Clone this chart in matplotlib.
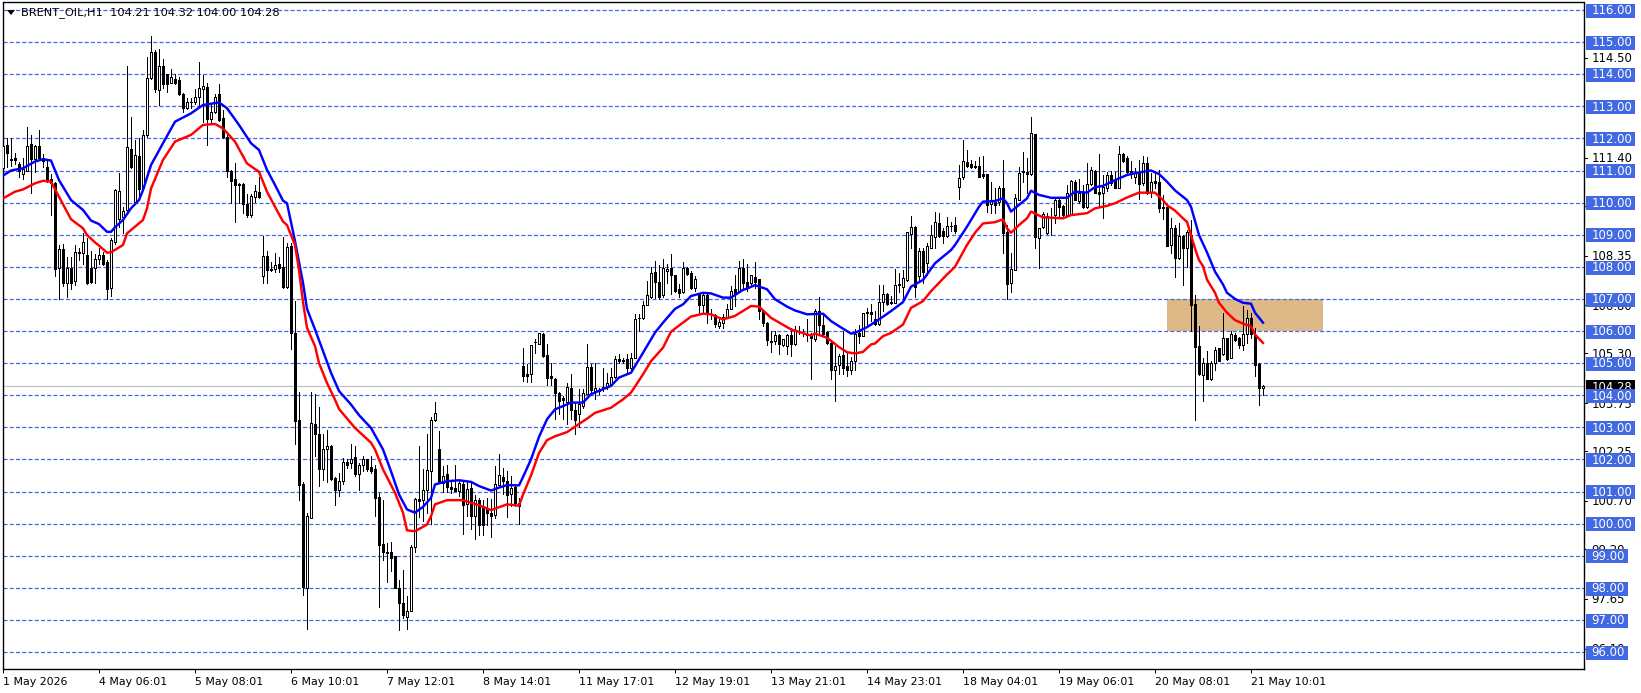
"""BRENT_OIL H1 terminal chart."""
import matplotlib
matplotlib.use("Agg")
import matplotlib.pyplot as plt
import matplotlib.transforms as mtransforms
from matplotlib.patches import Rectangle, Polygon
import numpy as np

W, H = 1641, 693

opens = [
    111.09, 111.80, 111.35, 111.38, 111.20, 110.90, 111.00, 111.82, 111.35, 111.75,
    111.38, 111.10, 110.72, 110.60, 107.95, 108.57, 107.50, 107.97, 107.55, 108.45,
    108.42, 108.37, 107.95, 107.95, 108.24, 108.37, 108.15, 107.33, 108.78, 109.50,
    109.56, 109.77, 111.67, 110.03, 111.45, 110.46, 112.10, 113.87, 114.70, 113.50,
    114.25, 114.00, 113.74, 113.85, 113.82, 113.37, 112.96, 113.12, 113.12, 113.30,
    113.55, 113.60, 112.60, 112.83, 113.37, 112.62, 112.05, 111.00, 110.72, 110.57,
    110.57, 109.95, 109.60, 110.18, 110.32, 107.72, 108.33, 107.93, 107.92, 108.10,
    107.98, 107.38, 108.65, 105.94, 103.24, 101.24, 98.00, 100.18, 103.09, 102.80,
    101.70, 102.33, 102.41, 101.43, 101.06, 101.34, 101.92, 101.90, 102.08, 101.53,
    101.81, 102.00, 101.76, 101.69, 100.83, 99.35, 99.12, 99.12, 98.98, 98.00,
    97.53, 97.09, 97.27, 99.28, 100.77, 100.73, 101.04, 101.64, 103.22, 102.33,
    101.27, 101.53, 101.15, 101.12, 101.01, 101.22, 100.62, 101.11, 100.23, 100.75,
    100.56, 100.44, 100.34, 100.26, 101.20, 101.45, 101.33, 100.91, 101.14, 100.63,
    104.91, 104.65, 104.65, 105.66, 105.61, 105.92, 105.24, 104.60, 104.52, 104.08,
    103.90, 103.80, 104.23, 103.54, 103.40, 103.66, 104.05, 104.89, 104.13, 104.14,
    104.21, 104.25, 104.34, 104.58, 105.14, 105.09, 105.14, 104.84, 105.15, 106.42,
    106.41, 106.82, 107.07, 107.85, 107.54, 107.11, 107.87, 107.95, 107.74, 107.30,
    107.21, 107.95, 107.82, 107.33, 107.17, 106.80, 107.11, 106.54, 106.50, 106.17,
    106.26, 106.45, 106.69, 107.30, 107.25, 107.97, 107.54, 107.50, 107.69, 107.61,
    106.62, 106.26, 105.70, 105.69, 105.86, 105.55, 105.53, 105.86, 105.58, 106.00,
    105.95, 105.90, 105.90, 105.76, 106.62, 106.20, 105.98, 105.64, 104.77, 104.94,
    105.24, 104.91, 104.78, 105.06, 105.94, 105.84, 106.56, 106.60, 106.36, 106.22,
    106.91, 107.16, 106.90, 106.88, 107.46, 107.38, 107.59, 109.02, 109.25, 107.70,
    108.49, 108.13, 108.60, 108.94, 109.36, 109.12, 108.97, 109.28, 109.29, 110.49,
    110.79, 111.26, 111.19, 111.13, 111.14, 110.89, 110.89, 109.95, 110.03, 110.01,
    110.47, 109.07, 107.51, 107.90, 110.08, 110.97, 110.94, 110.89, 112.13, 108.91,
    109.25, 109.04, 109.55, 109.62, 110.08, 109.90, 109.62, 109.62, 110.63, 110.05,
    110.29, 109.85, 110.58, 110.99, 110.34, 110.31, 110.45, 110.86, 110.70, 110.47,
    111.52, 111.38, 110.97, 110.81, 110.96, 110.60, 111.22, 110.34, 110.67, 110.63,
    109.87, 109.85, 108.68, 109.20, 108.28, 108.96, 108.58, 109.00, 106.83, 105.53,
    104.62, 105.00, 104.52, 104.99, 105.46, 105.27, 105.77, 105.17, 105.89, 105.77,
    105.55, 105.91, 106.39, 105.89, 104.96, 104.21,
]
closes = [
    111.77, 111.55, 111.32, 111.33, 110.97, 111.05, 111.77, 111.35, 111.75, 111.38,
    111.30, 110.70, 110.60, 107.92, 108.57, 107.50, 107.97, 107.50, 108.45, 108.42,
    108.76, 107.48, 107.52, 108.24, 108.37, 108.10, 107.30, 108.83, 110.40, 110.37,
    109.74, 111.72, 111.12, 111.48, 110.42, 112.10, 113.87, 114.69, 113.54, 114.25,
    113.70, 113.70, 113.90, 113.74, 113.37, 112.94, 113.12, 113.12, 113.30, 113.56,
    113.63, 112.60, 112.82, 113.30, 112.57, 112.03, 111.00, 110.67, 110.55, 110.55,
    109.95, 109.60, 110.20, 110.36, 110.19, 108.33, 107.90, 107.90, 108.05, 107.95,
    107.38, 108.62, 105.94, 103.19, 101.20, 98.02, 100.23, 103.12, 102.80, 101.70,
    102.33, 102.41, 101.40, 101.06, 101.34, 101.92, 101.81, 102.00, 101.53, 101.81,
    102.00, 101.69, 101.63, 100.80, 99.33, 99.11, 99.07, 98.93, 98.00, 97.53,
    97.14, 97.29, 99.28, 100.77, 100.70, 101.04, 101.66, 103.22, 103.43, 101.27,
    101.48, 101.15, 101.08, 101.01, 101.25, 100.57, 101.09, 100.25, 100.73, 99.97,
    99.97, 100.34, 100.23, 101.24, 101.50, 101.33, 100.89, 101.11, 100.65, 100.55,
    104.60, 104.60, 105.55, 105.65, 105.93, 105.22, 104.55, 104.55, 104.06, 103.82,
    103.84, 104.27, 103.54, 103.22, 103.72, 104.08, 104.89, 104.15, 104.23, 104.13,
    104.25, 104.39, 104.58, 105.12, 105.06, 105.08, 104.84, 105.17, 106.38, 106.41,
    106.82, 107.13, 107.82, 107.54, 107.07, 107.95, 107.94, 107.74, 107.25, 107.17,
    107.95, 107.79, 107.35, 107.61, 106.80, 107.11, 106.54, 106.52, 106.21, 106.28,
    106.45, 106.69, 107.24, 107.19, 107.97, 107.48, 107.35, 107.73, 107.54, 106.62,
    106.24, 105.72, 105.66, 105.86, 105.58, 105.74, 105.87, 105.58, 106.00, 105.98,
    105.93, 105.87, 105.79, 106.62, 106.20, 105.90, 105.62, 104.77, 104.91, 105.22,
    104.86, 104.78, 105.06, 105.92, 105.84, 106.55, 106.60, 106.54, 106.22, 106.91,
    107.16, 106.83, 106.88, 107.43, 107.44, 107.64, 109.07, 109.25, 107.38, 108.49,
    107.85, 108.65, 108.99, 109.39, 108.97, 108.97, 109.28, 109.27, 109.13, 110.76,
    111.30, 111.15, 111.12, 111.12, 110.81, 110.82, 109.93, 110.08, 109.93, 110.47,
    109.04, 107.47, 107.92, 110.13, 110.91, 110.96, 110.89, 112.16, 108.92, 109.20,
    109.64, 109.58, 109.56, 110.08, 109.87, 109.62, 110.29, 110.67, 110.08, 110.29,
    109.87, 110.58, 111.00, 110.31, 110.27, 110.50, 110.86, 110.60, 110.45, 111.50,
    111.31, 110.96, 110.96, 110.91, 110.58, 111.22, 110.29, 110.63, 110.62, 109.82,
    109.82, 108.66, 109.20, 108.26, 108.96, 108.60, 109.09, 106.81, 105.50, 104.65,
    105.00, 104.52, 104.99, 105.42, 105.08, 105.79, 105.13, 105.92, 105.72, 105.56,
    105.92, 106.41, 105.91, 104.94, 104.22, 104.28,
]
highs = [
    111.80, 112.00, 112.00, 111.55, 111.25, 111.40, 112.35, 112.10, 111.80, 112.25,
    111.50, 111.35, 110.90, 110.65, 108.68, 108.70, 108.30, 108.30, 108.68, 108.60,
    109.04, 108.90, 108.50, 108.40, 108.60, 108.45, 108.20, 108.90, 110.42, 110.92,
    109.87, 114.25, 112.68, 111.95, 112.00, 112.27, 114.55, 115.19, 114.75, 114.80,
    114.46, 114.02, 114.15, 114.00, 113.92, 113.40, 113.25, 113.25, 113.55, 114.37,
    113.97, 113.72, 113.10, 113.37, 113.70, 112.88, 112.10, 111.03, 111.22, 110.60,
    110.62, 110.28, 110.28, 110.55, 110.80, 108.97, 108.50, 108.15, 108.42, 108.30,
    108.94, 108.73, 108.75, 106.95, 104.10, 101.30, 100.32, 104.10, 104.04, 103.64,
    102.78, 102.93, 102.45, 101.45, 101.58, 102.05, 102.00, 102.49, 102.41, 101.90,
    102.12, 102.02, 102.12, 101.84, 100.96, 100.75, 99.40, 99.43, 99.00, 98.23,
    98.54, 97.74, 99.32, 100.80, 102.43, 101.70, 102.80, 103.33, 103.80, 102.90,
    101.79, 101.84, 101.37, 101.84, 101.37, 101.37, 101.30, 101.30, 100.90, 100.80,
    100.75, 100.80, 100.77, 101.79, 102.18, 101.72, 101.63, 101.48, 101.22, 100.80,
    105.48, 104.96, 105.56, 105.76, 105.95, 105.94, 105.58, 105.01, 104.55, 104.10,
    103.97, 104.39, 104.65, 103.80, 104.18, 104.18, 105.60, 104.96, 105.01, 104.23,
    104.84, 104.70, 104.86, 105.22, 105.29, 105.17, 105.29, 105.32, 106.52, 106.54,
    106.95, 107.56, 108.00, 108.18, 108.05, 108.25, 108.08, 108.39, 107.75, 107.45,
    108.16, 108.00, 107.87, 107.71, 107.18, 107.14, 107.14, 106.68, 106.54, 106.36,
    106.54, 106.85, 107.40, 107.76, 108.18, 108.23, 108.08, 107.76, 108.16, 107.62,
    106.65, 106.28, 106.00, 106.00, 105.90, 105.76, 105.92, 106.10, 106.15, 106.15,
    106.05, 106.36, 105.95, 106.69, 107.07, 106.50, 106.00, 105.66, 105.53, 105.27,
    106.00, 105.32, 105.20, 106.05, 106.18, 106.57, 106.72, 106.85, 106.62, 107.42,
    107.43, 107.19, 107.09, 107.94, 107.81, 107.90, 109.07, 109.58, 109.28, 108.58,
    108.58, 108.73, 109.30, 109.70, 109.67, 109.20, 109.56, 109.41, 109.56, 111.16,
    111.95, 111.64, 111.33, 111.30, 111.43, 111.44, 110.90, 110.63, 110.45, 110.53,
    111.33, 109.30, 108.44, 110.26, 111.12, 111.57, 111.38, 112.66, 112.15, 109.20,
    109.72, 109.67, 109.82, 110.13, 110.13, 109.93, 110.55, 110.70, 110.70, 110.74,
    110.55, 111.22, 111.12, 111.02, 111.50, 110.86, 110.96, 110.99, 110.96, 111.76,
    111.56, 111.45, 111.30, 111.07, 111.33, 111.45, 111.43, 110.91, 110.91, 111.01,
    110.23, 109.90, 109.53, 109.30, 109.35, 108.99, 109.14, 109.45, 107.11, 106.15,
    105.17, 105.39, 105.06, 105.51, 105.47, 106.57, 105.79, 106.00, 105.94, 105.82,
    106.77, 106.64, 106.57, 106.10, 105.00, 104.32,
]
lows = [
    111.00, 111.10, 111.15, 111.20, 110.80, 110.75, 111.00, 110.30, 110.95, 111.33,
    111.10, 110.65, 109.60, 107.70, 107.00, 107.40, 107.05, 107.30, 107.43, 108.20,
    108.10, 107.45, 107.48, 107.50, 108.10, 108.05, 107.00, 107.10, 108.70, 109.25,
    109.05, 109.72, 111.07, 109.97, 110.10, 110.40, 112.05, 113.84, 113.46, 113.05,
    113.56, 113.45, 113.72, 113.70, 113.35, 112.83, 112.93, 112.95, 113.08, 112.99,
    112.52, 111.80, 112.52, 112.78, 112.55, 112.00, 110.80, 109.98, 109.40, 110.00,
    109.67, 109.55, 109.55, 110.03, 110.13, 107.51, 107.50, 107.88, 107.85, 107.85,
    107.35, 107.35, 105.45, 102.47, 100.75, 97.77, 96.72, 100.17, 102.10, 101.17,
    101.37, 101.29, 101.37, 100.57, 100.86, 101.22, 101.74, 101.74, 101.48, 101.06,
    101.63, 101.63, 101.58, 100.23, 97.40, 98.88, 98.18, 98.52, 97.98, 96.70,
    97.07, 96.72, 97.27, 99.12, 100.20, 100.08, 100.34, 100.00, 103.20, 101.27,
    101.00, 101.00, 100.96, 101.01, 100.86, 99.68, 100.23, 99.84, 99.53, 99.66,
    99.66, 99.97, 99.59, 100.18, 101.17, 100.91, 100.20, 100.54, 100.54, 100.00,
    104.44, 104.42, 104.42, 105.32, 105.61, 105.19, 104.32, 104.32, 103.25, 103.40,
    103.25, 103.10, 103.25, 102.80, 103.00, 103.60, 104.03, 104.08, 103.87, 104.03,
    104.13, 104.18, 104.32, 104.55, 105.01, 105.01, 104.67, 104.80, 105.15, 106.00,
    106.38, 106.80, 107.04, 107.04, 107.00, 107.07, 107.50, 107.14, 107.21, 107.06,
    107.19, 107.73, 107.30, 107.25, 106.57, 106.57, 106.26, 106.36, 106.13, 106.10,
    106.10, 106.39, 106.67, 106.78, 107.21, 107.35, 107.25, 107.40, 107.35, 106.36,
    106.17, 105.56, 105.36, 105.58, 105.27, 105.53, 105.29, 105.22, 105.56, 105.90,
    105.85, 105.69, 104.49, 105.69, 105.90, 105.89, 105.60, 104.49, 103.82, 104.65,
    104.65, 104.60, 104.65, 104.80, 105.63, 105.83, 106.20, 106.30, 106.20, 106.20,
    106.62, 106.82, 106.83, 106.86, 107.22, 106.90, 107.55, 108.58, 107.07, 107.59,
    107.50, 107.75, 108.58, 108.58, 108.94, 108.73, 108.94, 109.10, 109.04, 110.10,
    110.73, 111.12, 111.07, 111.07, 110.80, 110.78, 109.72, 109.69, 109.67, 109.93,
    108.42, 107.00, 107.22, 107.90, 110.08, 110.65, 110.29, 110.86, 108.58, 107.97,
    109.20, 109.01, 109.00, 109.35, 109.56, 109.58, 109.60, 109.60, 110.07, 109.98,
    109.82, 109.82, 110.55, 110.29, 109.87, 109.51, 110.37, 110.55, 110.44, 110.44,
    111.28, 110.91, 110.76, 110.60, 110.10, 110.55, 110.26, 110.18, 110.44, 109.72,
    109.49, 108.65, 108.44, 107.69, 108.23, 107.43, 108.00, 106.00, 103.24, 104.63,
    103.82, 104.50, 104.47, 104.78, 105.06, 105.26, 105.11, 105.16, 105.68, 105.48,
    105.40, 105.63, 105.79, 104.59, 103.71, 104.00,
]

blue_bars = [
    0, 2, 5, 8, 10, 12, 14, 17, 20, 22, 24, 26, 27, 28, 30, 32, 34, 35, 37, 40, 43, 47,
    50, 54, 56, 59, 62, 64, 66, 68, 70, 71, 73, 75, 76, 78, 80, 82, 84, 87, 89, 92, 95,
    97, 99, 101, 103, 105, 107, 108, 111, 114, 117, 119, 122, 124, 126, 129, 130, 132,
    134, 136, 138, 140, 142, 145, 147, 152, 154, 157, 160, 163, 165, 168, 170, 172, 175,
    177, 180, 182, 185, 186, 188, 191, 193, 196, 198, 201, 205, 207, 209, 212, 213, 216,
    219, 222, 225, 227, 230, 233, 237, 238, 241, 244, 245, 248, 250, 251, 252, 254, 256,
    257, 259, 262, 266, 268, 271, 273, 275, 278, 281, 284, 287, 289, 291, 293, 296, 297,
    299, 301, 303, 305, 306, 308, 310, 312, 313, 315,
]
blue_line = [
    110.84, 111.00, 111.07, 111.28, 111.35, 111.31, 110.70, 110.08, 109.77, 109.44,
    109.33, 109.09, 109.09, 109.23, 109.46, 109.82, 110.08, 110.39, 111.17, 111.85,
    112.52, 112.78, 113.04, 113.12, 112.94, 112.42, 111.85, 111.64, 111.02, 110.55,
    110.06, 109.98, 108.80, 107.50, 106.69, 106.05, 105.37, 104.70, 104.13, 103.71,
    103.38, 102.98, 102.31, 101.63, 100.91, 100.44, 100.34, 100.52, 100.80, 101.22,
    101.32, 101.35, 101.30, 101.17, 101.03, 101.12, 101.20, 101.19, 101.45, 102.00,
    102.70, 103.25, 103.56, 103.66, 103.77, 103.77, 104.03, 104.29, 104.55, 104.70,
    105.32, 105.95, 106.26, 106.69, 106.83, 107.09, 107.19, 107.17, 107.04, 107.04,
    107.28, 107.32, 107.43, 107.30, 106.99, 106.76, 106.64, 106.52, 106.54, 106.31,
    106.15, 105.92, 105.94, 106.12, 106.36, 106.62, 106.90, 107.38, 107.59, 108.11,
    108.52, 108.68, 109.25, 109.87, 110.03, 110.05, 110.13, 109.98, 109.72, 109.93,
    110.13, 110.37, 110.24, 110.15, 110.15, 110.34, 110.31, 110.48, 110.52, 110.70,
    110.86, 110.94, 111.00, 110.89, 110.65, 110.38, 110.08, 109.87, 108.99, 108.45,
    107.85, 107.45, 107.19, 107.00, 106.88, 106.85, 106.57, 106.26,
]
red_bars = [
    0, 3, 5, 8, 10, 12, 14, 17, 20, 21, 23, 24, 26, 27, 30, 31, 35, 36, 37, 40, 43, 47,
    50, 53, 55, 58, 59, 61, 64, 66, 68, 70, 71, 73, 74, 75, 76, 78, 79, 81, 83, 84, 88,
    92, 93, 95, 98, 100, 101, 103, 106, 107, 108, 111, 115, 119, 122, 126, 129, 130,
    132, 134, 136, 138, 141, 144, 146, 148, 152, 155, 157, 160, 162, 165, 167, 170,
    172, 175, 177, 180, 183, 187, 189, 192, 197, 199, 202, 203, 206, 209, 211, 213,
    215, 217, 218, 220, 222, 225, 227, 230, 232, 234, 236, 238, 241, 243, 245, 248,
    250, 251, 252, 254, 256, 257, 260, 265, 267, 271, 273, 276, 278, 281, 284, 288,
    290, 291, 293, 295, 296, 297, 298, 299, 300, 301, 303, 304, 306, 308, 310, 312,
    313, 315,
]
red_line = [
    110.13, 110.34, 110.41, 110.60, 110.68, 110.65, 110.18, 109.48, 109.20, 108.99,
    108.76, 108.66, 108.44, 108.45, 108.68, 109.04, 109.46, 109.82, 110.44, 111.33,
    111.90, 112.11, 112.42, 112.45, 112.31, 111.90, 111.67, 111.22, 110.96, 110.34,
    109.87, 109.41, 109.30, 108.68, 107.90, 106.90, 106.10, 105.53, 105.00, 104.38,
    103.86, 103.57, 102.98, 102.52, 102.31, 101.69, 100.96, 100.34, 99.79, 99.76,
    99.97, 100.23, 100.60, 100.73, 100.73, 100.57, 100.42, 100.60, 100.56, 100.90,
    101.50, 102.20, 102.60, 102.72, 102.85, 103.10, 103.27, 103.45, 103.61, 103.87,
    104.08, 104.65, 105.06, 105.48, 105.98, 106.26, 106.45, 106.54, 106.52, 106.36,
    106.47, 106.78, 106.76, 106.41, 106.05, 105.97, 105.86, 105.92, 105.79, 105.50,
    105.34, 105.30, 105.35, 105.58, 105.61, 105.84, 105.94, 106.20, 106.72, 106.93,
    107.24, 107.50, 107.76, 108.00, 108.68, 109.06, 109.35, 109.39, 109.48, 109.20,
    109.06, 109.30, 109.51, 109.72, 109.54, 109.51, 109.61, 109.67, 109.82, 109.90,
    109.98, 110.16, 110.31, 110.31, 110.08, 109.92, 109.75, 109.51, 109.40, 108.99,
    108.57, 108.21, 108.02, 107.60, 107.19, 106.88, 106.57, 106.34, 106.23, 106.15,
    105.89, 105.63,
]

level_prices = [116, 115, 114, 113, 112, 111, 110, 109, 108, 107, 106, 105, 104,
                103, 102, 101, 100, 99, 98, 97, 96]
scale_prices = [114.50, 111.40, 109.90, 108.35, 106.80, 105.30, 103.75, 102.25,
                100.70, 99.20, 97.65, 96.10]
last_price = 104.28
zone_bars = [291, 330]
zone_prices = [106, 107]
header = "BRENT_OIL,H1  104.21 104.32 104.00 104.28"
date_labels = ["1 May 2026", "4 May 06:01", "5 May 08:01", "6 May 10:01", "7 May 12:01",
               "8 May 14:01", "11 May 17:01", "12 May 19:01", "13 May 21:01",
               "14 May 23:01", "18 May 04:01", "19 May 06:01", "20 May 08:01",
               "21 May 10:01"]

LEVEL_COLOR = "#4169E1"
DATE_SIZE = 7.9
PRICE_SIZE = 8.4
HEADER_SIZE = 8.2
PX = 0.72  # one pixel in points at dpi 100
PX_PRICE = 1 / 32.1  # one pixel in price units

fig = plt.figure(figsize=(W / 100, H / 100), dpi=100, facecolor="white")
ax = fig.add_axes([2.5 / W, 1 - 669 / H, (1584 - 2.5) / W, (669 - 2.5) / H])

bars = np.arange(len(opens))
o, c = np.array(opens), np.array(closes)
ax.set_xlim(-0.125, 395.25)
ax.set_ylim(116 - 659 * PX_PRICE, 116 + 7.5 * PX_PRICE)

# labels on the right are placed in figure x, price y
to_right = mtransforms.blended_transform_factory(fig.transFigure, ax.transData)

ax.add_patch(Rectangle((zone_bars[0], zone_prices[0]), zone_bars[1] - zone_bars[0],
                       zone_prices[1] - zone_prices[0], facecolor="#DEB887",
                       edgecolor="none", zorder=1))
ax.axhline(last_price, color="#C0C0C0", lw=PX * 1.2, zorder=1.5)
for price in level_prices:
    ax.axhline(price, color=LEVEL_COLOR, lw=PX * 1.2, ls=(0, (3.4, 1.8)), zorder=2)

# candles
ax.vlines(bars, lows, highs, color="black", lw=PX, antialiased=False, zorder=3)
bullish = c >= o
ax.bar(bars[bullish], (c - o)[bullish], bottom=o[bullish], width=0.5, facecolor="white",
       edgecolor="black", lw=PX, antialiased=False, zorder=4)
ax.bar(bars[~bullish], (c - o)[~bullish], bottom=o[~bullish], width=0.5, facecolor="black",
       edgecolor="black", lw=PX, antialiased=False, zorder=4)

ax.plot(blue_bars, blue_line, color="#0000FF", lw=1.75, zorder=5)
ax.plot(red_bars, red_line, color="#FF0000", lw=1.75, zorder=5)


def price_label(price, text_color, box_color=None, box_w=49, zorder=7):
    """Draw one label of the price scale, with a box if a colour is given."""
    if box_color:
        ax.add_patch(Rectangle((1586 / W, price - 7.7 * PX_PRICE), box_w / W, 14 * PX_PRICE,
                               transform=to_right, facecolor=box_color, edgecolor="none",
                               clip_on=False, zorder=zorder))
    ax.text(1591.5 / W, price - 0.8 * PX_PRICE, f"{price:.2f}", transform=to_right,
            fontsize=PRICE_SIZE, ha="left", va="center", color=text_color, clip_on=False,
            zorder=zorder)


# price scale
for price in scale_prices:
    ax.plot([1584 / W, 1587 / W], [price, price], color="black", lw=PX,
            transform=to_right, clip_on=False, zorder=6)
    price_label(price, "black", zorder=6)
price_label(last_price, "white", "black", zorder=7)
for price in level_prices:
    price_label(price, "white", LEVEL_COLOR, 49 if price >= 100 else 42, zorder=8)

# time scale
ax.set_xticks(np.arange(len(date_labels)) * 24)
ax.set_xticklabels(date_labels, fontsize=DATE_SIZE, ha="left")
ax.tick_params(axis="x", length=3, width=PX, pad=2.5)
ax.set_yticks([])
for spine in ax.spines.values():
    spine.set_linewidth(1.0)

# header
fig.add_artist(Polygon([[7 / W, 1 - 10 / H], [15 / W, 1 - 10 / H], [11 / W, 1 - 15 / H]],
                       closed=True, facecolor="black", edgecolor="none",
                       transform=fig.transFigure))
fig.text(21 / W, 1 - 12.7 / H, header, fontsize=HEADER_SIZE, ha="left", va="center", color="black")

fig.savefig("out.png", dpi=100)
